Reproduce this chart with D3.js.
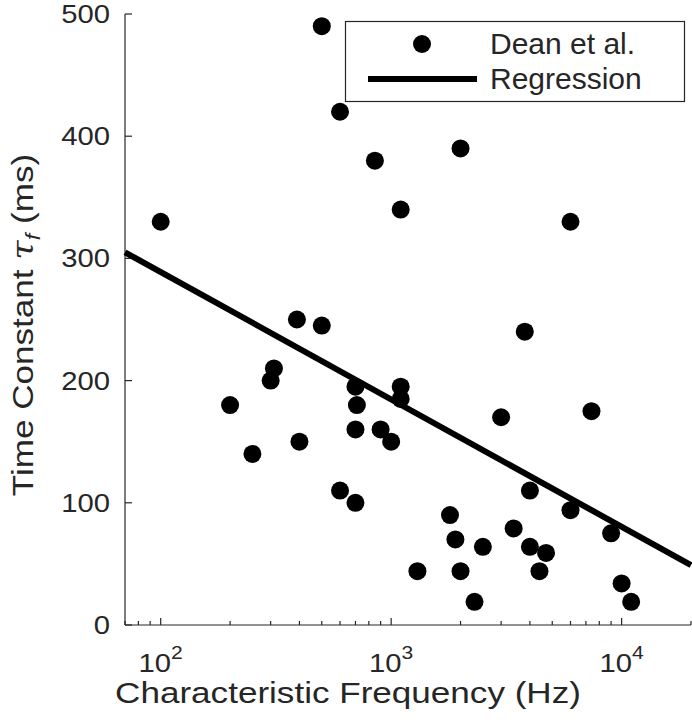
<!DOCTYPE html>
<html>
<head>
<meta charset="utf-8">
<script src="https://cdn.jsdelivr.net/npm/d3@7"></script>
<style>
  body { margin: 0; background: #fff; }
  svg { display: block; font-family: "Liberation Sans", Arial, sans-serif; }
</style>
</head>
<body>
<svg width="692" height="720"></svg>
<script>
// data
const freqs = [100, 500, 600, 850, 1100, 2000, 6000, 3800, 390, 500,
               310, 300, 200, 250, 400, 600, 700, 700, 710, 700,
               900, 1000, 1100, 1100, 3000, 7400, 4000, 6000, 1800, 3400,
               9000, 1900, 2500, 4000, 4700, 1300, 2000, 4400, 10000, 2300, 11000];
const taus  = [330, 490, 420, 380, 340, 390, 330, 240, 250, 245,
               210, 200, 180, 140, 150, 110, 100, 195, 180, 160,
               160, 150, 195, 185, 170, 175, 110, 94, 90, 79,
               75, 70, 64, 64, 59, 44, 44, 44, 34, 19, 19];
// regression line end points
const regFreq = [70, 20000];
const regTau  = [305, 49];
const yTicks = [0, 100, 200, 300, 400, 500];
const xMajor = [100, 1000, 10000];
const xExp = ['2', '3', '4'];

const svg = d3.select('svg');
const ink = '#262626';
const stretch = 1.17;   // the original's text is a bit wide
const margin = { top: 14, right: 1, bottom: 95, left: 125 };
const width = +svg.attr('width');
const height = +svg.attr('height');

const xScale = d3.scaleLog().domain([70, 20000]).range([margin.left, width - margin.right]);
const yScale = d3.scaleLinear().domain([0, 500]).range([height - margin.bottom, margin.top]);

const data = freqs.map((f, i) => ({ f: f, t: taus[i] }));

// axes (ticks pointing inward, no box)
const minor = [];
for (let d = 10; d <= 10000; d *= 10) {
    for (let k = 2; k <= 9; k++) {
        const v = d * k;
        if (v >= 70 && v <= 20000) minor.push(v);
    }
}

const xAxisG = svg.append('g')
    .attr('transform', `translate(0,${yScale(0)})`);
xAxisG.append('line')
    .attr('x1', xScale.range()[0]).attr('x2', xScale.range()[1])
    .attr('stroke', ink).attr('stroke-width', 1.2);
xAxisG.selectAll('.minor').data(minor).enter().append('line')
    .attr('x1', d => xScale(d)).attr('x2', d => xScale(d))
    .attr('y1', 0).attr('y2', -4)
    .attr('stroke', ink).attr('stroke-width', 1.2);
xAxisG.selectAll('.major').data(xMajor).enter().append('line')
    .attr('x1', d => xScale(d)).attr('x2', d => xScale(d))
    .attr('y1', 0).attr('y2', -7)
    .attr('stroke', ink).attr('stroke-width', 1.2);
const xt = xAxisG.selectAll('.xlab').data(xMajor).enter().append('text')
    .attr('transform', d => `translate(${xScale(d)},47) scale(${stretch},1)`)
    .attr('text-anchor', 'middle')
    .attr('fill', ink)
    .style('font-size', '25px');
xt.append('tspan').text('10');
xt.append('tspan').attr('dy', -13).style('font-size', '18px').text((d, i) => xExp[i]);

const yAxisG = svg.append('g')
    .attr('transform', `translate(${xScale.range()[0]},0)`);
yAxisG.append('line')
    .attr('y1', yScale(0)).attr('y2', yScale(500))
    .attr('stroke', ink).attr('stroke-width', 1.2);
yAxisG.selectAll('.tick').data(yTicks).enter().append('line')
    .attr('y1', d => yScale(d)).attr('y2', d => yScale(d))
    .attr('x1', 0).attr('x2', 7)
    .attr('stroke', ink).attr('stroke-width', 1.2);
yAxisG.selectAll('.ylab').data(yTicks).enter().append('text')
    .attr('transform', d => `translate(-15,${yScale(d)}) scale(${stretch},1)`)
    .attr('dy', '0.36em')
    .attr('text-anchor', 'end')
    .attr('fill', ink)
    .style('font-size', '25px')
    .text(d => d);

// regression line
svg.append('line')
    .attr('x1', xScale(regFreq[0])).attr('y1', yScale(regTau[0]))
    .attr('x2', xScale(regFreq[1])).attr('y2', yScale(regTau[1]))
    .attr('stroke', '#000').attr('stroke-width', 6);

// points
svg.selectAll('circle.pt').data(data).enter().append('circle')
    .attr('class', 'pt')
    .attr('cx', d => xScale(d.f))
    .attr('cy', d => yScale(d.t))
    .attr('r', 9)
    .attr('fill', '#000');

// legend
const lg = svg.append('g');
lg.append('rect')
    .attr('x', 345.5).attr('y', 21.5).attr('width', 339).attr('height', 80)
    .attr('fill', '#fff').attr('stroke', ink).attr('stroke-width', 1.2);
lg.append('circle').attr('cx', 422).attr('cy', 44).attr('r', 9).attr('fill', '#000');
lg.append('line').attr('x1', 368).attr('x2', 477).attr('y1', 79).attr('y2', 79)
    .attr('stroke', '#000').attr('stroke-width', 6);
lg.append('text').attr('x', 490).attr('y', 54).attr('fill', ink)
    .style('font-size', '30px').text('Dean et al.');
lg.append('text').attr('x', 490).attr('y', 89).attr('fill', ink)
    .style('font-size', '30px').text('Regression');

// axis labels
svg.append('text')
    .attr('transform', `translate(348,703) scale(${stretch},1)`)
    .attr('text-anchor', 'middle')
    .attr('fill', ink)
    .style('font-size', '30px')
    .text('Characteristic Frequency (Hz)');

const yl = svg.append('text')
    .attr('transform', `translate(33,325) rotate(-90) scale(${stretch},1)`)
    .attr('text-anchor', 'middle')
    .attr('fill', ink)
    .style('font-size', '30px');
yl.append('tspan').text('Time Constant ');
yl.append('tspan').style('font-family', '"DejaVu Serif", serif').style('font-style', 'italic').text('τ');
yl.append('tspan').attr('dy', 7).style('font-size', '20px').style('font-style', 'italic').text('f');
yl.append('tspan').attr('dy', -7).text(' (ms)');
</script>
</body>
</html>
